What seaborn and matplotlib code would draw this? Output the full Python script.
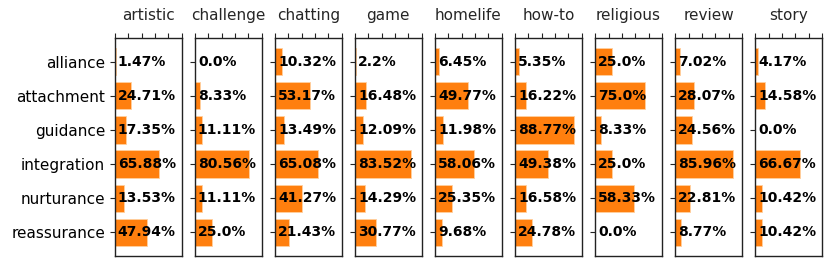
import matplotlib
matplotlib.use("Agg")
import matplotlib.pyplot as plt
import seaborn as sns
import pandas as pd

categories = ["alliance", "attachment", "guidance", "integration", "nurturance", "reassurance"]
columns = ["artistic", "challenge", "chatting", "game", "homelife", "how-to", "religious", "review", "story"]

artistic = [1.47, 24.71, 17.35, 65.88, 13.53, 47.94]
challenge = [0.0, 8.33, 11.11, 80.56, 11.11, 25.0]
chatting = [10.32, 53.17, 13.49, 65.08, 41.27, 21.43]
game = [2.2, 16.48, 12.09, 83.52, 14.29, 30.77]
homelife = [6.45, 49.77, 11.98, 58.06, 25.35, 9.68]
howto = [5.35, 16.22, 88.77, 49.38, 16.58, 24.78]
religious = [25.0, 75.0, 8.33, 25.0, 58.33, 0.0]
review = [7.02, 28.07, 24.56, 85.96, 22.81, 8.77]
story = [4.17, 14.58, 0.0, 66.67, 10.42, 10.42]

series = [artistic, challenge, chatting, game, homelife, howto, religious, review, story]

sns.set_style("white")
plt.rcParams['font.family'] = ['DejaVu Sans']

fig, axes = plt.subplots(1, 9, figsize=(8.32, 2.66), dpi=100, sharey=False)
fig.subplots_adjust(left=0.138, right=0.988, top=0.857, bottom=0.038, wspace=0.2)

for i, (ax, col, vals) in enumerate(zip(axes, columns, series)):
    df = pd.DataFrame({"category": categories, "value": vals})
    sns.barplot(data=df, x="value", y="category", orient="h", ax=ax,
                color="#ff7f0e", saturation=1, width=0.8,
                edgecolor="#ffd0a0", linewidth=0.6)
    ax.set_xlim(0, 100)
    ax.set_ylim(5.69, -0.69)
    ax.set_xlabel("")
    ax.set_ylabel("")
    ax.xaxis.tick_top()
    ax.set_xticks([0, 20, 40, 60, 80, 100])
    ax.set_xticklabels([])
    ax.tick_params(axis="x", top=True, length=3.5, width=0.8, color="#222222")
    ax.tick_params(axis="y", left=True, length=3.5, width=0.8, color="#222222")
    ax.set_title(col, fontsize=11, pad=12.7)
    if i == 0:
        ax.tick_params(axis="y", labelsize=11, labelcolor="black")
    else:
        ax.set_yticklabels([])
    for s in ax.spines.values():
        s.set_visible(True)
        s.set_color("#222222")
        s.set_linewidth(1.0)
    for j, v in enumerate(vals):
        ax.text(4.5, j, f"{v}%", ha="left", va="center", fontsize=10,
                fontweight="bold", color="black")

fig.savefig("out.png", dpi=100)
